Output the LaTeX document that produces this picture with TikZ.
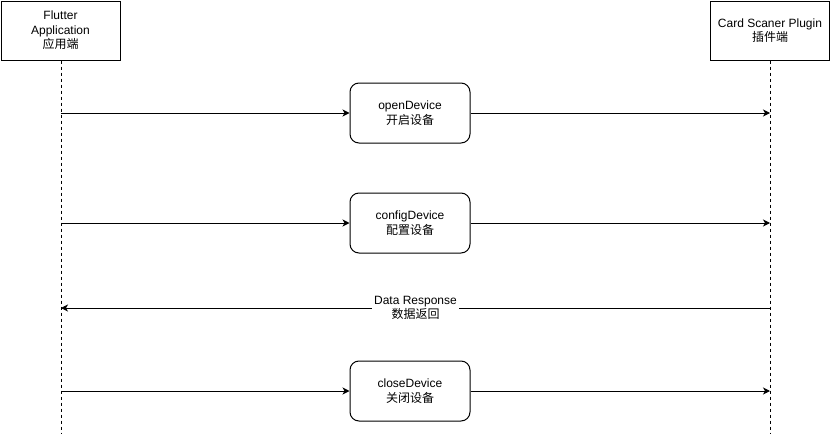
\documentclass[tikz,border=0pt]{standalone}
\usepackage{fontspec}
\setmainfont{Liberation Sans}
\newfontfamily\cjk{Noto Sans CJK SC}
\usetikzlibrary{arrows.meta, positioning}

\begin{document}
\begin{tikzpicture}[x=1pt, y=-1pt, font=\fontsize{12}{14.5}\selectfont,
    >={Stealth[length=7pt, width=7pt, inset=2pt]},
    head/.style={rectangle, draw, line width=1pt, minimum width=119pt,
      minimum height=59pt, align=center, inner sep=1pt},
    call/.style={rectangle, draw, line width=1pt, rounded corners=9pt,
      minimum width=120pt, minimum height=60pt, align=center},
    life/.style={line width=0.8pt, dash pattern=on 3pt off 3pt},
    msg/.style={->, line width=1pt},
  ]
    \useasboundingbox (0,0) rectangle (831,434);

    % lifeline heads
    \node[head] (flutter) at (60.5,30.5) {Flutter\\Application\\{\cjk 应用端}};
    \node[head] (plugin)  at (770,30.5)  {Card Scaner Plugin\\{\cjk 插件端}};
    \coordinate (fEnd) at (61,434);
    \coordinate (pEnd) at (770,434);
    \draw[life] (flutter.south -| fEnd) -- (fEnd);
    \draw[life] (plugin.south -| pEnd) -- (pEnd);

    % calls
    \node[call] (open)   at (410,113) {openDevice\\{\cjk 开启设备}};
    \node[call] (config) at (410,223) {configDevice\\{\cjk 配置设备}};
    \node[call] (close)  at (410,391) {closeDevice\\{\cjk 关闭设备}};

    \foreach \n in {open, config, close} {
      \draw[msg] (\n.west -| fEnd) -- (\n.west);
      \draw[msg] (\n.east) -- (\n.east -| pEnd);
    }

    % response
    \coordinate (dR) at (770,308);
    \coordinate (dL) at (61,308);
    \draw[msg] (dR) -- node[fill=white, inner xsep=2pt, inner ysep=0pt, align=center]
      {Data Response\\{\cjk 数据返回}} (dL);
  \end{tikzpicture}
\end{document}
